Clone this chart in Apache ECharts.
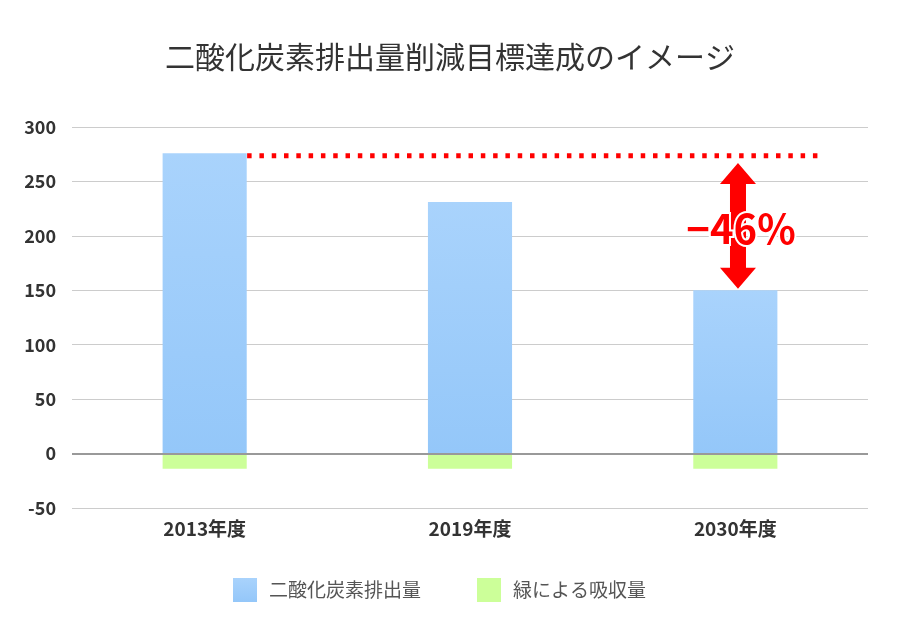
<!DOCTYPE html>
<html><head><meta charset="utf-8">
<script src="https://cdn.jsdelivr.net/npm/echarts@6/dist/echarts.min.js"></script>
<style>html,body{margin:0;padding:0;background:#fff}#c{width:900px;height:622px}</style>
</head><body><div id="c"></div>
<script>
const title = '二酸化炭素排出量削減目標達成のイメージ';
const categories = ['2013年度', '2019年度', '2030年度'];
const emissions = [276, 231, 150];
const absorption = [-14, -14, -14];
const yTicks = {min: -50, max: 300, interval: 50};
const targetLine = [[0.66, 273.5], [2.83, 273.5]];
const reductionArrow = [[2.51, 267, 151.5]];
const reductionLabel = '−46%';
const seriesNames = ['二酸化炭素排出量', '緑による吸収量'];

const font = '"Noto Sans CJK JP", "Noto Sans", sans-serif';
const chart = echarts.init(document.getElementById('c'));
const gridColors = ['#cccccc','#999999','#cccccc','#cccccc','#cccccc','#cccccc','#cccccc','#cccccc'];

chart.setOption({
  animation: false,
  title: {text: title, left: 'center', top: 37, textStyle: {fontFamily: font, fontSize: 30, fontWeight: 'normal', color: '#333'}},
  grid: {left: 72, right: 32, top: 127, bottom: 114},
  legend: {
    data: seriesNames, bottom: 20, left: 233, padding: 0, itemWidth: 24, itemHeight: 24, itemGap: 56,
    icon: 'rect', textStyle: {fontFamily: font, fontSize: 19, color: '#555', padding: [0,0,0,7]}
  },
  xAxis: [
    {type: 'category', data: categories, axisLine: {show: false, onZero: false}, axisTick: {show: false},
     axisLabel: {margin: 11, fontFamily: font, fontSize: 19, fontWeight: 'bold', color: '#333'}},
    {type: 'value', min: 0, max: 3, show: false}
  ],
  yAxis: {type: 'value', min: yTicks.min, max: yTicks.max, interval: yTicks.interval,
    axisLine: {show: false}, axisTick: {show: false},
    axisLabel: {margin: 16, fontFamily: font, fontSize: 18, fontWeight: 'bold', color: '#333'},
    splitLine: {lineStyle: {color: gridColors, width: 1}}
  },
  series: [
    {name: seriesNames[0], type: 'bar', stack: 's', data: emissions, barWidth: '31.7%',
     itemStyle: {color: new echarts.graphic.LinearGradient(0,0,0,1,[{offset:0,color:'#a9d3fc'},{offset:1,color:'#94c7f9'}])}},
    {name: seriesNames[1], type: 'bar', stack: 's', data: absorption, barWidth: '31.7%', itemStyle: {color: '#ccff99'},
     markLine: {silent: true, symbol: 'none', label: {show: false}, data: [{yAxis: 0}],
       lineStyle: {color: '#999999', width: 2, type: 'solid'}}},
    {type: 'line', xAxisIndex: 1, data: targetLine, symbol: 'none', silent: true,
     lineStyle: {color: '#ff0000', width: 5, type: [4.5, 7.8], cap: 'butt'}, z: 5},
    {type: 'custom', xAxisIndex: 1, data: reductionArrow, silent: true, z: 10,
     renderItem: function (params, api) {
       const top = api.coord([api.value(0), api.value(1)]);
       const bot = api.coord([api.value(0), api.value(2)]);
       const x = top[0], hh = 21, hw = 18, sw = 8;
       const pts = [[x, top[1]], [x + hw, top[1] + hh], [x + sw, top[1] + hh], [x + sw, bot[1] - hh], [x + hw, bot[1] - hh],
         [x, bot[1]], [x - hw, bot[1] - hh], [x - sw, bot[1] - hh], [x - sw, top[1] + hh], [x - hw, top[1] + hh]];
       return {type: 'group', children: [
         {type: 'polygon', shape: {points: pts}, style: {fill: '#ff0000'}},
         {type: 'text', x: x + 3, y: (top[1] + bot[1]) / 2 + 3,
          style: {text: reductionLabel, fill: '#ff0000', stroke: '#ffffff', lineWidth: 4, font: 'bold 40px ' + font,
                  align: 'center', verticalAlign: 'middle'}}
       ]};
     }}
  ]
});
</script></body></html>
